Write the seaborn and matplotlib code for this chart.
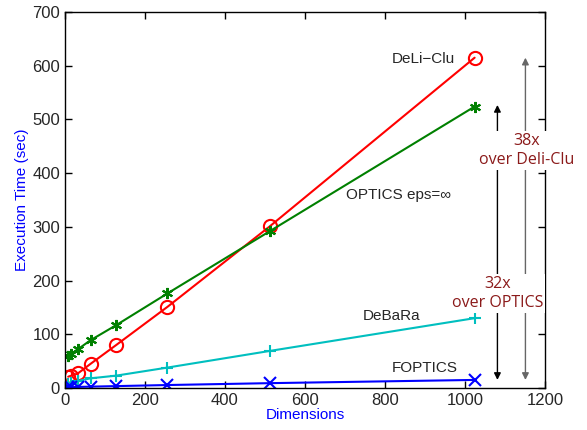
import matplotlib
matplotlib.use("Agg")
import matplotlib.pyplot as plt
import pandas as pd
import seaborn as sns

# Data
dimensions = [8, 16, 32, 64, 128, 256, 512, 1024]
deliclu = [21, 23, 27, 45, 80, 151, 301, 615]
optics = [59, 64, 72, 89, 117, 176, 292, 524]
debara = [8, 10, 13, 18, 23, 38, 69, 130]
foptics = [1, 1.5, 2, 2.5, 3.5, 5.5, 9, 15]

series = {
    "DeLi-Clu": (deliclu, "#ff0000", "o"),
    "OPTICS eps=∞": (optics, "#008000", (6, 2, 0)),
    "DeBaRa": (debara, "#00bfbf", "+"),
    "FOPTICS": (foptics, "#0000ff", "x"),
}

sns.set_style("white")
plt.rcParams["font.family"] = ["Liberation Sans", "DejaVu Sans"]
plt.rcParams["xtick.bottom"] = True
plt.rcParams["ytick.left"] = True

fig = plt.figure(figsize=(5.87, 4.30), dpi=100)
ax = fig.add_axes([0.1107, 0.0977, 0.8178, 0.8743])

for name, (vals, color, marker) in series.items():
    df = pd.DataFrame({"dim": dimensions, "time": vals})
    open_marker = marker == "o"
    sns.lineplot(
        data=df, x="dim", y="time", ax=ax, color=color, linewidth=1.5,
        marker=marker, markersize=9.5 if open_marker else 8,
        markerfacecolor="none" if open_marker else color,
        markeredgecolor=color, markeredgewidth=1.5,
    )

ax.set_xlim(0, 1200)
ax.set_ylim(0, 700)
ax.set_xticks(range(0, 1201, 200))
ax.set_yticks(range(0, 701, 100))
ax.tick_params(direction="in", bottom=True, left=True, top=True, right=True,
               length=5, labelsize=12, width=1, color="black")
for s in ax.spines.values():
    s.set_color("black")
    s.set_linewidth(1)
ax.set_xlabel("Dimensions", color="blue", fontsize=11, labelpad=0)
ax.set_ylabel("Execution Time (sec)", color="blue", fontsize=11, labelpad=2)

# series labels
ax.text(817, 613, "DeLi\u2212Clu", fontsize=11, va="center", ha="left")
ax.text(702, 359, "OPTICS eps=∞", fontsize=11, va="center", ha="left")
ax.text(745, 134, "DeBaRa", fontsize=11, va="center", ha="left")
ax.text(817, 38, "FOPTICS", fontsize=11, va="center", ha="left")

# speed-up arrows
ax.annotate("", xy=(1081, 527), xytext=(1081, 15),
            arrowprops=dict(arrowstyle="<|-|>", color="black", lw=1,
                            mutation_scale=10, shrinkA=0, shrinkB=0))
ax.annotate("", xy=(1151, 615), xytext=(1151, 15),
            arrowprops=dict(arrowstyle="<|-|>", color="0.4", lw=1,
                            mutation_scale=10, shrinkA=0, shrinkB=0))
red = "#8b1a1a"
bbox = dict(facecolor="white", edgecolor="none", pad=1)
ax.text(1081, 176, "32x\nover OPTICS", color=red, fontsize=11.5, ha="center",
        va="center", linespacing=1.3, family=["Open Sans", "DejaVu Sans"], bbox=bbox)
ax.text(1155, 442, "38x\nover Deli-Clu", color=red, fontsize=11.5, ha="center",
        va="center", linespacing=1.3, family=["Open Sans", "DejaVu Sans"], bbox=bbox)

fig.savefig("out.png", dpi=100)
